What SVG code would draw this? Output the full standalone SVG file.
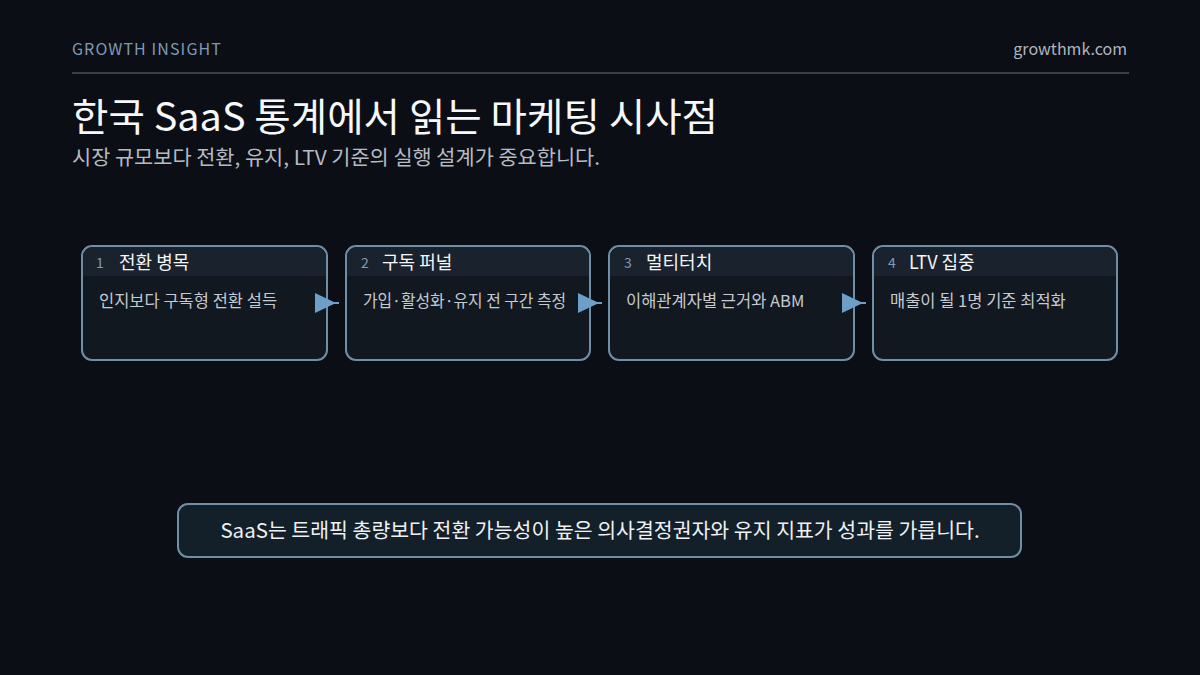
<svg xmlns="http://www.w3.org/2000/svg" width="1200" height="675" viewBox="0 0 1200 675">
<defs>
<style>
.t{font-family:"Noto Sans CJK KR","Noto Sans",sans-serif}
.card{fill:#111820;stroke:#6f8ea8;stroke-width:2}
.band{fill:#1a232d}
.num{font-size:14px;fill:#7f9ab5}
.ttl{font-size:18px;fill:#f4f6f8}
.body{font-size:16.5px;fill:#c5cad1}
.arrow{fill:#6d9fc8}
.conn{stroke:#6d9fc8;stroke-width:2}
</style>
</defs>
<rect width="1200" height="675" fill="#0b0e15"/>
<g id="header">
<text class="t" x="72" y="55" font-size="16" fill="#7f9ab5" letter-spacing="1.1">GROWTH INSIGHT</text>
<text class="t" x="1127" y="55" font-size="16" fill="#b0b6bf" text-anchor="end">growthmk.com</text>
<line x1="72" y1="73" x2="1129" y2="73" stroke="#3a4048" stroke-width="2"/>
<text class="t" x="72" y="131" font-size="39" fill="#f7f8fa" textLength="646" lengthAdjust="spacingAndGlyphs">한국 SaaS 통계에서 읽는 마케팅 시사점</text>
<text class="t" x="72" y="165" font-size="20.5" fill="#b6bbc3" textLength="528" lengthAdjust="spacingAndGlyphs">시장 규모보다 전환, 유지, LTV 기준의 실행 설계가 중요합니다.</text>
</g>
<g id="node1">
<rect class="card" x="82" y="246" width="245" height="114" rx="10"/>
<path class="band" d="M83 276 V257 a10 10 0 0 1 10 -10 H316 a10 10 0 0 1 10 10 V276 Z"/>
<text class="t num" x="96" y="268">1</text>
<text class="t ttl" x="119" y="269">전환 병목</text>
<text class="t body" x="99" y="307">인지보다 구독형 전환 설득</text>
</g>
<g id="node2">
<rect class="card" x="346" y="246" width="244" height="114" rx="10"/>
<path class="band" d="M347 276 V257 a10 10 0 0 1 10 -10 H579 a10 10 0 0 1 10 10 V276 Z"/>
<text class="t num" x="361" y="268">2</text>
<text class="t ttl" x="382" y="269">구독 퍼널</text>
<text class="t body" x="363" y="307" textLength="203" lengthAdjust="spacingAndGlyphs">가입·활성화·유지 전 구간 측정</text>
</g>
<g id="node3">
<rect class="card" x="609" y="246" width="245" height="114" rx="10"/>
<path class="band" d="M610 276 V257 a10 10 0 0 1 10 -10 H843 a10 10 0 0 1 10 10 V276 Z"/>
<text class="t num" x="624" y="268">3</text>
<text class="t ttl" x="646" y="269">멀티터치</text>
<text class="t body" x="626" y="307">이해관계자별 근거와 ABM</text>
</g>
<g id="node4">
<rect class="card" x="873" y="246" width="244" height="114" rx="10"/>
<path class="band" d="M874 276 V257 a10 10 0 0 1 10 -10 H1106 a10 10 0 0 1 10 10 V276 Z"/>
<text class="t num" x="888" y="268">4</text>
<text class="t ttl" x="909" y="269">LTV 집중</text>
<text class="t body" x="890" y="307">매출이 될 1명 기준 최적화</text>
</g>
<g id="connectors">
<line class="conn" x1="327" y1="303" x2="339" y2="303"/>
<polygon class="arrow" points="315,293 336,303 315,313"/>
<line class="conn" x1="590" y1="303" x2="602" y2="303"/>
<polygon class="arrow" points="578,293 599,303 578,313"/>
<line class="conn" x1="854" y1="303" x2="866" y2="303"/>
<polygon class="arrow" points="842,293 863,303 842,313"/>
</g>
<g id="summary">
<rect x="178" y="504" width="843" height="53" rx="10" fill="#142029" stroke="#6f8ea8" stroke-width="2"/>
<text class="t" x="600" y="538" font-size="20.5" fill="#eef0f3" text-anchor="middle">SaaS는 트래픽 총량보다 전환 가능성이 높은 의사결정권자와 유지 지표가 성과를 가릅니다.</text>
</g>
</svg>
